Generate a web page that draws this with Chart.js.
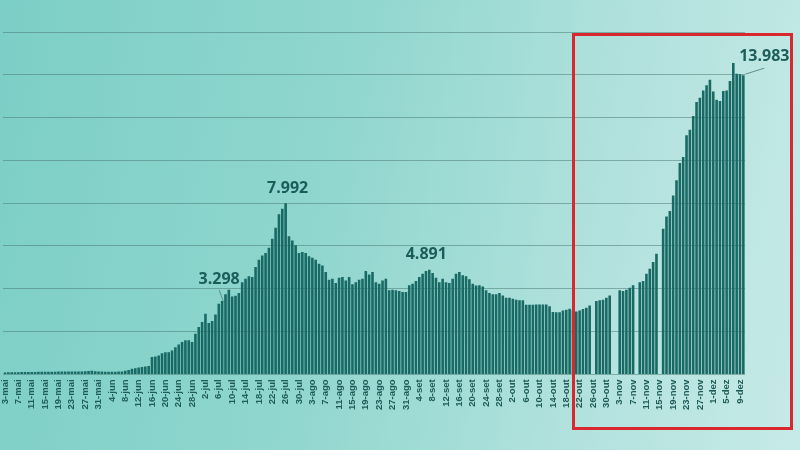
<!DOCTYPE html>
<html>
<head>
<meta charset="utf-8">
<script src="https://cdn.jsdelivr.net/npm/chart.js@4/dist/chart.umd.min.js"></script>
<style>
  html, body { margin: 0; padding: 0; }
  body {
    width: 800px; height: 450px; overflow: hidden;
    background: linear-gradient(100deg, #7ccfc6 0%, #8fd6ce 40%, #b3e2de 75%, #c6eae7 100%);
  }
  #wrap { position: relative; width: 800px; height: 450px; }
</style>
</head>
<body>
<div id="wrap"><canvas id="grafico"></canvas></div>
<script>
// meses: [nome, primeiro dia, último dia]
const meses = [
  ['mai', 3, 31], ['jun', 1, 30], ['jul', 1, 31], ['ago', 1, 31],
  ['set', 1, 30], ['out', 1, 31], ['nov', 1, 30], ['dez', 1, 10]
];
const categorias = [];
meses.forEach(m => {
  for (let d = m[1]; d <= m[2]; d++) categorias.push(d + '-' + m[0]);
});

// mai 3 - mai 31
const valoresMai = [90, 95, 100, 100, 105, 110, 110, 110, 115, 115, 120, 120, 120, 125, 125,
  125, 130, 130, 130, 135, 135, 140, 140, 140, 150, 160, 170, 150, 140];
// jun
const valoresJun = [130, 125, 120, 120, 125, 130, 140, 170, 200, 260, 290, 320, 350, 370, 390,
  810, 840, 880, 990, 1040, 1040, 1120, 1270, 1400, 1510, 1590, 1590, 1510, 1900, 2210];
// jul
const valoresJul = [2450, 2830, 2400, 2490, 2800, 3298, 3430, 3740, 3960, 3640, 3680, 3800,
  4310, 4470, 4580, 4550, 5020, 5360, 5560, 5670, 5920, 6340, 6850, 7480, 7740, 7992,
  6450, 6260, 6030, 5670, 5720];
// ago
const valoresAgo = [5670, 5520, 5450, 5360, 5170, 5090, 4780, 4420, 4470, 4270, 4520,
  4550, 4390, 4550, 4210, 4310, 4420, 4470, 4830, 4670, 4780, 4310, 4240, 4390, 4470,
  3930, 3960, 3930, 3900, 3850, 3850];
// set
const valoresSet = [4160, 4240, 4360, 4550, 4700, 4830, 4891, 4740, 4520, 4310, 4470, 4310,
  4270, 4470, 4700, 4780, 4630, 4580, 4450, 4240, 4150, 4160, 4110, 3930, 3800, 3740,
  3740, 3800, 3690, 3580];
// out
const valoresOut = [3580, 3530, 3490, 3460, 3460, 3250, 3250, 3250, 3270, 3270, 3270, 3270,
  3180, 2910, 2900, 2900, 2990, 3020, 3070, 3000, 2940, 2990, 3050, 3110, 3220, null,
  3430, 3460, 3490, 3580, 3690];
// nov
const valoresNov = [null, null, 3930, 3900, 3960, 4050, 4160, null, 4310, 4360, 4700, 4940,
  5250, 5640, null, 6800, 7380, 7630, 8360, 9070, 9880, 10160, 11170, 11430, 12070,
  12730, 12930, 13270, 13510, 13770];
// dez 1 - dez 10
const valoresDez = [13220, 12830, 12770, 13240, 13270, 13710, 14550, 14050, 14020, 13983];

const valores = [].concat(valoresMai, valoresJun, valoresJul, valoresAgo,
  valoresSet, valoresOut, valoresNov, valoresDez);

const escalaY = [0, 16000, 2000];
const passoRotulos = 4;

// destaques: índice da barra, texto, deslocamento do texto e da linha-guia
const destaques = [
  { i: categorias.indexOf('7-jul'), texto: '3.298', dx: -3, dy: -22, linha: [-3, -11, 1, 0] },
  { i: categorias.indexOf('26-jul'), texto: '7.992', dx: 2, dy: -15, linha: null },
  { i: categorias.indexOf('7-set'), texto: '4.891', dx: -3, dy: -15, linha: null },
  { i: categorias.indexOf('10-dez'), texto: '13.983', dx: 21, dy: -19, linha: [2, -1, 21, -7] }
];

const pluginExtras = {
  id: 'extras',
  afterDatasetsDraw(chart) {
    const ctx = chart.ctx;
    const x = chart.scales.x, y = chart.scales.y;
    ctx.save();
    destaques.forEach(d => {
      const px = x.getPixelForValue(d.i);
      const py = y.getPixelForValue(valores[d.i]);
      if (d.linha) {
        ctx.strokeStyle = '#5c8f8b';
        ctx.lineWidth = 1;
        ctx.beginPath();
        ctx.moveTo(px + d.linha[0], py + d.linha[1]);
        ctx.lineTo(px + d.linha[2], py + d.linha[3]);
        ctx.stroke();
      }
      ctx.fillStyle = '#1b5d59';
      ctx.font = 'bold 16px "Open Sans", sans-serif';
      ctx.textAlign = 'center';
      ctx.textBaseline = 'middle';
      ctx.fillText(d.texto, px + d.dx, py + d.dy);
    });
    ctx.restore();
  },
  afterDraw(chart) {
    const ctx = chart.ctx;
    ctx.save();
    ctx.strokeStyle = '#d8282d';
    ctx.lineWidth = 3;
    ctx.strokeRect(573.5, 34.5, 218, 394);
    ctx.restore();
  }
};

new Chart(document.getElementById('grafico'), {
  type: 'bar',
  data: {
    labels: categorias,
    datasets: [{
      data: valores,
      backgroundColor: '#196a65',
      barPercentage: 0.78,
      categoryPercentage: 1
    }]
  },
  options: {
    responsive: true,
    maintainAspectRatio: false,
    animation: false,
    layout: { padding: { left: 2, right: 55, top: 32, bottom: 35 } },
    plugins: { legend: { display: false }, tooltip: { enabled: false } },
    scales: {
      x: {
        grid: { display: false, drawTicks: false },
        border: { display: false },
        ticks: {
          autoSkip: false,
          minRotation: 90,
          maxRotation: 90,
          padding: 5,
          color: '#1f5c58',
          font: { family: '"Liberation Sans", Arial, sans-serif', size: 9.5, weight: 'bold' },
          callback: (v, idx) => idx % passoRotulos === 0 ? categorias[idx] : ''
        }
      },
      y: {
        min: escalaY[0],
        max: escalaY[1],
        ticks: { display: false, stepSize: escalaY[2] },
        border: { display: false },
        grid: { color: 'rgba(70,115,110,0.5)', lineWidth: 1, drawTicks: false }
      }
    }
  },
  plugins: [pluginExtras]
});
</script>
</body>
</html>
